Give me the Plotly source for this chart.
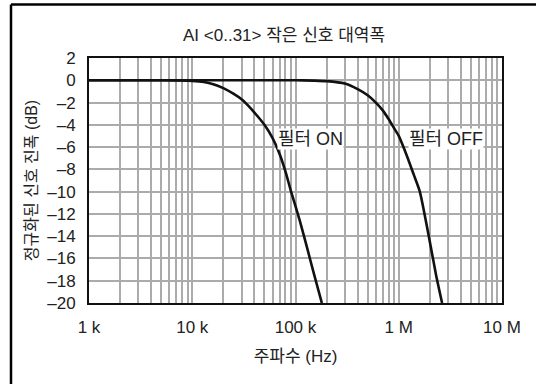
import plotly.graph_objects as go

# Data
freq_on = [1e3, 5e3, 1e4, 1.3e4, 1.6e4, 2e4, 2.5e4, 3e4, 3.5e4, 4e4, 5e4, 6e4, 7e4, 8e4, 9e4, 1.1e5, 1.3e5, 1.5e5, 1.8e5]
db_on = [0.0, 0.0, -0.05, -0.15, -0.35, -0.7, -1.2, -1.7, -2.3, -2.9, -4.0, -5.2, -6.6, -8.2, -9.9, -12.6, -15.1, -17.3, -20.0]

freq_off = [1e3, 1e5, 1.5e5, 2e5, 3e5, 4e5, 5e5, 6e5, 7e5, 8e5, 9e5, 1.0e6, 1.2e6, 1.4e6, 1.6e6, 2.0e6, 2.3e6, 2.63e6]
db_off = [0.0, 0.0, -0.03, -0.08, -0.3, -0.8, -1.35, -2.0, -2.7, -3.5, -4.3, -5.0, -6.8, -8.5, -10.0, -14.5, -17.5, -20.0]

x_tickvals = [1e3, 1e4, 1e5, 1e6, 1e7]
x_ticktext = ["1 k", "10 k", "100 k", "1 M", "10 M"]
y_tickvals = list(range(2, -21, -2))
y_ticktext = [str(v) if v >= 0 else "\u2013" + str(-v) for v in y_tickvals]

title_text = "AI <0..31> 작은 신호 대역폭"
x_title = "주파수 (Hz)"
y_title = "정규화된 신호 진폭 (dB)"
label_on = "필터 ON"
label_off = "필터 OFF"

W, H = 536, 384
L, R, T, B = 89, 34, 58, 81
PW, PH = W - L - R, H - T - B

def px_x(p):
    return (p - L) / PW

def px_y(p):
    return (H - B - p) / PH

FONT = "Liberation Sans, Arial, Noto Sans CJK KR, sans-serif"
TXT = "#222222"
GRID = "#ababab"

minor_vals = [d * k for d in x_tickvals[:-1] for k in range(2, 10)]

fig = go.Figure()
fig.add_trace(go.Scatter(x=freq_on, y=db_on, mode="lines", line=dict(color="#111111", width=2.6, shape="spline", smoothing=0.6), showlegend=False))
fig.add_trace(go.Scatter(x=freq_off, y=db_off, mode="lines", line=dict(color="#111111", width=2.6, shape="spline", smoothing=0.6), showlegend=False))

fig.update_layout(
    width=W, height=H,
    margin=dict(l=L, r=R, t=T, b=B),
    paper_bgcolor="white", plot_bgcolor="white",
    font=dict(family=FONT, size=17, color=TXT),
    showlegend=False,
)
fig.update_xaxes(
    type="log", range=[3, 7],
    tickvals=x_tickvals, ticktext=x_ticktext,
    showgrid=True, gridcolor=GRID, gridwidth=1.5,
    minor=dict(tickvals=minor_vals, showgrid=True, gridcolor=GRID, gridwidth=1.5, ticks=""),
    showline=True, linecolor="#111111", linewidth=2, mirror=True,
    ticks="", ticklabelstandoff=8,
    zeroline=False,
    title=dict(text=x_title, font=dict(size=17), standoff=14),
)
fig.update_yaxes(
    range=[-20, 2],
    tickvals=y_tickvals, ticktext=y_ticktext,
    showgrid=True, gridcolor=GRID, gridwidth=1.5,
    showline=True, linecolor="#111111", linewidth=2, mirror=True,
    ticks="", ticklabelstandoff=8,
    zeroline=False,
    title=dict(text=y_title, font=dict(size=16), standoff=6),
)

fig.add_annotation(text=title_text, xref="paper", yref="paper", x=px_x(284), y=px_y(35),
                   showarrow=False, font=dict(size=17, color=TXT), xanchor="center", yanchor="middle")
fig.add_annotation(text=label_on, x=4.82, y=-5.27, xref="x", yref="y", showarrow=False,
                   xanchor="left", yanchor="middle", bgcolor="white", borderpad=0,
                   font=dict(size=18, color=TXT))
fig.add_annotation(text=label_off, x=6.09, y=-5.27, xref="x", yref="y", showarrow=False,
                   xanchor="left", yanchor="middle", bgcolor="white", borderpad=0,
                   font=dict(size=18, color=TXT))

# Outer frame (only top and left visible in the reference crop)
fig.add_shape(type="line", xref="paper", yref="paper", x0=px_x(11), x1=px_x(540), y0=px_y(4.5), y1=px_y(4.5),
              line=dict(color="black", width=2.5))
fig.add_shape(type="line", xref="paper", yref="paper", x0=px_x(11), x1=px_x(11), y0=px_y(4.5), y1=px_y(390),
              line=dict(color="black", width=2.5))

fig.write_html("out.html")
